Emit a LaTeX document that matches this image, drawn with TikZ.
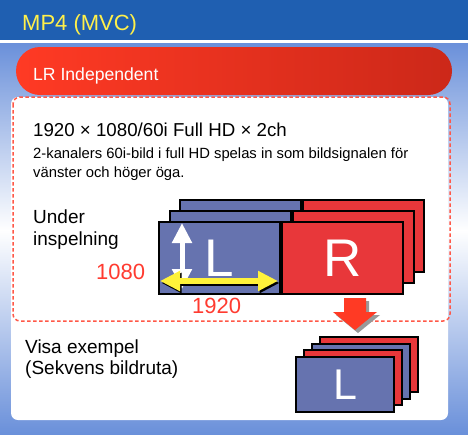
\documentclass[tikz,border=0pt]{standalone}
\usepackage{fontspec}
\setmainfont{Liberation Sans}
\usetikzlibrary{arrows.meta}

\definecolor{barblue}{HTML}{1F5FB1}
\definecolor{bgblue}{HTML}{6A90DA}
\definecolor{pillred}{HTML}{FF3A24}
\definecolor{pilldark}{HTML}{CC2819}
\definecolor{frameblue}{HTML}{6673AF}
\definecolor{framered}{HTML}{E8373A}
\definecolor{labelred}{HTML}{FF3B30}
\definecolor{dashred}{HTML}{FF5848}
\definecolor{titleyellow}{HTML}{FFF04A}
\definecolor{dimyellow}{HTML}{FFF23A}

\begin{document}
\begin{tikzpicture}[x=1pt,y=-1pt,
  lbox/.style={draw=black,line width=2pt,fill=frameblue,minimum width=121pt,minimum height=72pt,inner sep=0pt,anchor=north west,text=white,font=\fontsize{53}{53}\selectfont},
  rbox/.style={lbox,fill=framered},
  sbox/.style={draw=black,line width=2pt,fill=frameblue,minimum width=98pt,minimum height=55pt,inner sep=0pt,anchor=north west,text=white,font=\fontsize{43}{43}\selectfont},
  txt/.style={anchor=base west,inner sep=0pt,align=left},
  num/.style={txt,text=labelred,font=\fontsize{22}{22}\selectfont},
  dimtip/.style={{Triangle[width=19pt,length=20pt]}-{Triangle[width=19pt,length=20pt]}}]

\useasboundingbox (0,0) rectangle (468,434) ;

% background
\shade[top color=bgblue,bottom color=white] (0,43) rectangle (468,231) ;
\shade[top color=white,bottom color=bgblue] (0,230) rectangle (468,434) ;
\fill[barblue] (0,0) rectangle (468,40) ;
\fill[white] (0,40) rectangle (468,43) ;
\node[txt,text=titleyellow,font=\fontsize{22}{22}\selectfont] (title) at (22,30) {MP4 (MVC)} ;

\shade[left color=pillred,middle color=pillred!92!pilldark,right color=pilldark,rounded corners=24pt] (16,47) rectangle (452,95) ;
\node[txt,text=white,font=\fontsize{17.6}{18}\selectfont] (mode) at (33,80) {LR Independent} ;

\fill[white,rounded corners=7pt] (11,97) rectangle (448,420) ;
\draw[dashred,line width=1.5pt,dash pattern=on 3.5pt off 2.5pt,rounded corners=7pt] (13,97) rectangle (450,321) ;

% multi-line nodes sit on their last line
\node[txt,font=\fontsize{18.7}{19}\selectfont] (spec) at (33,136) {1920 × 1080/60i Full HD × 2ch} ;
\node[txt,font=\fontsize{14.8}{19}\selectfont] (desc) at (33,177) {2-kanalers 60i-bild i full HD spelas in som bildsignalen för\\vänster och höger öga.} ;
\node[txt,font=\fontsize{19}{22}\selectfont] (rec) at (33,245) {Under\\inspelning} ;

% recorded frames
\node[lbox] (l3) at (179,199) {} ;
\node[rbox,anchor=west] (r3) at (l3.east) {} ;
\node[lbox] (l2) at (169,210) {} ;
\node[rbox,anchor=west] (r2) at (l2.east) {} ;
\node[lbox] (l1) at (158,221) {L} ;
\node[rbox,anchor=west] (r1) at (l1.east) {R} ;

\coordinate (hbot) at (182,289) ;
\coordinate (htop) at (182,223) ;
\draw[white,line width=5pt,dimtip] (hbot) -- (htop) ;
\coordinate (wl) at (160,281) ;
\coordinate (wr) at (278,281) ;
\draw[black,line width=6pt,dimtip] ([shift={(1.5,2)}]wl) -- ([shift={(1.5,2)}]wr) ;
\draw[dimyellow,line width=6pt,dimtip] (wl) -- (wr) ;

\node[num] (h) at (96,279) {1080} ;
\node[num] (w) at (192,313) {1920} ;

% down arrow
\fill[gray!80,shift={(3,3)}] (344,298) -- (366,298) -- (366,312) -- (377,312) -- (355,330) -- (333,312) -- (344,312) -- cycle ;
\fill[pillred] (344,298) -- (366,298) -- (366,312) -- (377,312) -- (355,330) -- (333,312) -- (344,312) -- cycle ;

\node[txt,font=\fontsize{19}{21}\selectfont] (show) at (25,374) {Visa exempel\\(Sekvens bildruta)} ;

% frame sequence
\node[sbox,fill=framered] (s4) at (319,336) {} ;
\node[sbox] (s3) at (311,343) {} ;
\node[sbox,fill=framered] (s2) at (303,349) {} ;
\node[sbox] (s1) at (295,356) {L} ;

\end{tikzpicture}
\end{document}
